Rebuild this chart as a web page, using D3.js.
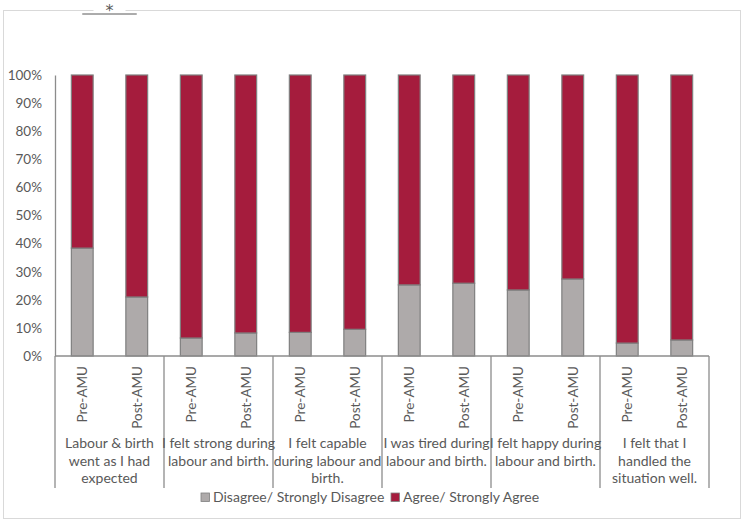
<!DOCTYPE html>
<html>
<head>
<meta charset="utf-8">
<script src="https://cdn.jsdelivr.net/npm/d3@7"></script>
<style>
  body { margin: 0; background: #fff; }
  text { font-family: Lato, "Open Sans", sans-serif; fill: #595959; }
</style>
</head>
<body>
<div id="chart"></div>
<script>
// data
var categories = [
    ["Labour & birth", "went as I had", "expected"],
    ["I felt strong during", "labour and birth."],
    ["I felt capable", "during labour and", "birth."],
    ["I was tired during", "labour and birth."],
    ["I felt happy during", "labour and birth."],
    ["I felt that I", "handled the", "situation well."]
];
var phases = ["Pre-AMU", "Post-AMU"];
var seriesNames = ["Disagree/ Strongly Disagree", "Agree/ Strongly Agree"];
var seriesColors = ["#aeaaaa", "#a51c3d"];
// disagree share per category, [pre, post]
var disagree = [
    [38.4, 21.0],
    [6.4, 8.2],
    [8.4, 9.5],
    [25.3, 25.9],
    [23.5, 27.4],
    [4.6, 5.7]
];
var yTicks = [0, 10, 20, 30, 40, 50, 60, 70, 80, 90, 100];

const WIDTH = 744;
const HEIGHT = 525;
const PLOT_LEFT = 55, PLOT_RIGHT = 709, PLOT_TOP = 75, PLOT_BOTTOM = 356;

var svg = d3.select("#chart")
    .append("svg")
    .attr("width", WIDTH)
    .attr("height", HEIGHT);

// outer chart border
svg.append("rect")
    .attr("x", 3.5).attr("y", 10.5)
    .attr("width", 737).attr("height", 508)
    .attr("fill", "#fff")
    .attr("stroke", "#d9d9d9");

var xGroup = d3.scaleBand().domain(d3.range(categories.length)).range([PLOT_LEFT, PLOT_RIGHT]);
var xInner = d3.scaleBand().domain(phases).range([0, xGroup.bandwidth()]).paddingInner(0.6).paddingOuter(0.3);
var yScale = d3.scaleLinear().domain([0, 100]).range([PLOT_BOTTOM, PLOT_TOP]);

// y axis
var yAxis = svg.append("g")
    .attr("transform", "translate(" + PLOT_LEFT + ",0)")
    .call(d3.axisLeft(yScale).tickValues(yTicks).tickSize(0).tickPadding(13).tickFormat(function (d) { return d + "%"; }));
yAxis.select(".domain").attr("stroke", "#8c8c8c").attr("stroke-width", 1.3);
yAxis.selectAll("text").style("font-size", "13.5px").style("font-family", "Lato").attr("fill", "#595959");

// stacked bars
var rows = [];
disagree.forEach(function (pair, ci) {
    pair.forEach(function (v, pi) {
        rows.push({ c: ci, p: phases[pi], vals: [v, 100 - v] });
    });
});

rows.forEach(function (r) {
    var x0 = xGroup(r.c) + xInner(r.p);
    var base = 0;
    r.vals.forEach(function (v, si) {
        svg.append("rect")
            .attr("x", x0)
            .attr("y", yScale(base + v))
            .attr("width", xInner.bandwidth())
            .attr("height", yScale(base) - yScale(base + v))
            .attr("fill", seriesColors[si])
            .attr("stroke", "#7f7f7f")
            .attr("stroke-width", 1.2);
        base += v;
    });
});

// x axis line + category separators
svg.append("line")
    .attr("x1", PLOT_LEFT).attr("x2", PLOT_RIGHT)
    .attr("y1", PLOT_BOTTOM).attr("y2", PLOT_BOTTOM)
    .attr("stroke", "#8c8c8c").attr("stroke-width", 1.3);

d3.range(categories.length + 1).forEach(function (i) {
    var x = i < categories.length ? xGroup(i) : PLOT_RIGHT;
    svg.append("line")
        .attr("x1", x).attr("x2", x)
        .attr("y1", PLOT_BOTTOM).attr("y2", 488)
        .attr("stroke", "#8c8c8c").attr("stroke-width", 1.3);
});

// rotated phase labels
categories.forEach(function (cat, ci) {
    phases.forEach(function (p) {
        var cx = xGroup(ci) + xInner(p) + xInner.bandwidth() / 2;
        svg.append("text")
            .attr("transform", "translate(" + (cx + 5) + "," + 366 + ") rotate(-90)")
            .attr("text-anchor", "end")
            .style("font-size", "13.5px")
            .text(p);
    });
    var t = svg.append("text")
        .attr("text-anchor", "middle")
        .style("font-size", "14px");
    cat.forEach(function (line, li) {
        t.append("tspan")
            .attr("x", xGroup(ci) + xGroup.bandwidth() / 2)
            .attr("y", 448 + li * 17.5)
            .text(line);
    });
});

// legend
var legendX = [201, 391];
seriesNames.forEach(function (name, i) {
    svg.append("rect")
        .attr("x", legendX[i]).attr("y", 493)
        .attr("width", 8.5).attr("height", 8.5)
        .attr("fill", seriesColors[i])
        .attr("stroke", "#7f7f7f").attr("stroke-width", 0.8);
    svg.append("text")
        .attr("x", legendX[i] + 12).attr("y", 502)
        .style("font-size", "14px")
        .text(name);
});

// significance marker over first category
var s1 = xGroup(0) + xInner(phases[0]) + xInner.bandwidth() / 2;
var s2 = xGroup(0) + xInner(phases[1]) + xInner.bandwidth() / 2;
svg.append("rect")
    .attr("x", (s1 + s2) / 2 - 16).attr("y", 0)
    .attr("width", 32).attr("height", 12)
    .attr("fill", "#fff");
svg.append("line")
    .attr("x1", s1).attr("x2", s2)
    .attr("y1", 14).attr("y2", 14)
    .attr("stroke", "#595959").attr("stroke-width", 1);
svg.append("text")
    .attr("x", (s1 + s2) / 2).attr("y", 16)
    .attr("text-anchor", "middle")
    .style("font-size", "16px")
    .style("font-family", "DejaVu Sans")
    .attr("fill", "#262626")
    .text("*");
</script>
</body>
</html>
